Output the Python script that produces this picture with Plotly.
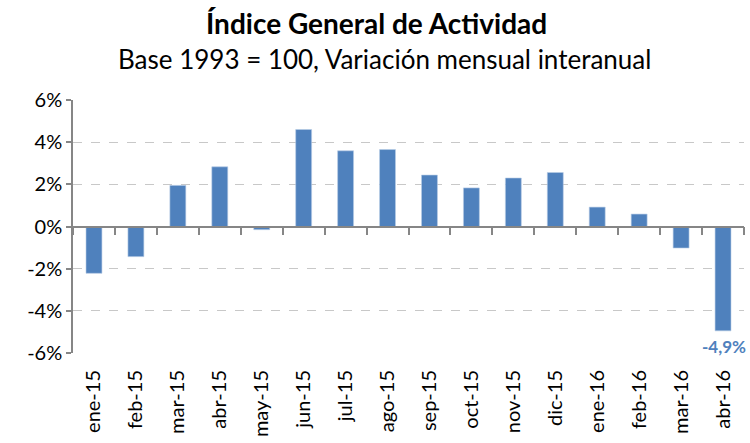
import plotly.graph_objects as go

categories = ["ene-15", "feb-15", "mar-15", "abr-15", "may-15", "jun-15", "jul-15", "ago-15",
              "sep-15", "oct-15", "nov-15", "dic-15", "ene-16", "feb-16", "mar-16", "abr-16"]
values = [-2.22, -1.43, 1.95, 2.83, -0.15, 4.6, 3.59, 3.65,
          2.44, 1.83, 2.3, 2.56, 0.92, 0.59, -1.02, -4.95]
y_tickvals = [-6, -4, -2, 0, 2, 4, 6]
y_ticktext = ["-6%", "-4%", "-2%", "0%", "2%", "4%", "6%"]
last_label = "-4,9%"

FONT = "Lato"
BLUE = "#4F81BD"
GRAY = "#868686"

fig = go.Figure()
fig.add_trace(go.Bar(
    x=categories, y=values, marker=dict(color=BLUE, line=dict(color="#B9CDE5", width=0.6)),
    xaxis="x", yaxis="y", hoverinfo="x+y",
))
fig.add_trace(go.Scatter(
    x=categories, y=[0] * len(categories), mode="markers", marker=dict(opacity=0),
    xaxis="x2", yaxis="y", hoverinfo="skip", showlegend=False,
))

fig.add_annotation(
    x=categories[-1], y=values[-1], xref="x", yref="y", text=f"<b>{last_label}</b>",
    showarrow=False, yanchor="top", yshift=-3, xshift=1,
    font=dict(family=FONT, size=17, color=BLUE),
)

fig.add_annotation(x=0.4516, y=1, xref="paper", yref="paper", yshift=77, yanchor="middle",
                   text="<b>Índice General de Actividad</b>", showarrow=False,
                   font=dict(family=FONT, size=28, color="#000000"))
fig.add_annotation(x=0.4635, y=1, xref="paper", yref="paper", yshift=41, yanchor="middle",
                   text="Base 1993 = 100, Variación mensual interanual", showarrow=False,
                   font=dict(family=FONT, size=26, color="#000000"))

fig.update_layout(
    width=750, height=443,
    margin=dict(l=73, r=6, t=100, b=90, autoexpand=False),
    paper_bgcolor="white", plot_bgcolor="white",
    showlegend=False,
    bargap=0.62,
    font=dict(family=FONT, color="#000000"),
    xaxis=dict(
        type="category", categoryorder="array", categoryarray=categories,
        anchor="free", position=0.5, showline=True, linecolor=GRAY, linewidth=1.5,
        ticks="outside", tickson="boundaries", ticklen=8, tickcolor=GRAY, tickwidth=1.5,
        showticklabels=False, showgrid=False, zeroline=False, range=[-0.5, 15.5],
        automargin=False,
    ),
    xaxis2=dict(
        type="category", categoryorder="array", categoryarray=categories,
        overlaying="x", anchor="y", side="bottom", matches="x",
        showline=False, ticks="", showgrid=False, zeroline=False,
        tickangle=-90, tickfont=dict(family=FONT, size=20, color="#000000"),
        ticklabelstandoff=12, automargin=False,
    ),
    yaxis=dict(
        range=[-6, 6], tickvals=y_tickvals, ticktext=y_ticktext,
        showline=True, linecolor=GRAY, linewidth=1.5, ticks="outside", ticklen=5,
        tickcolor=GRAY, tickwidth=1.5,
        showgrid=True, gridcolor="#C8C8C8", griddash="dash", gridwidth=1,
        zeroline=False, tickfont=dict(family=FONT, size=20, color="#000000"),
        automargin=False,
    ),
)

fig.write_html("out.html", config={"displayModeBar": False},
               post_script="document.body.style.margin='0';")
